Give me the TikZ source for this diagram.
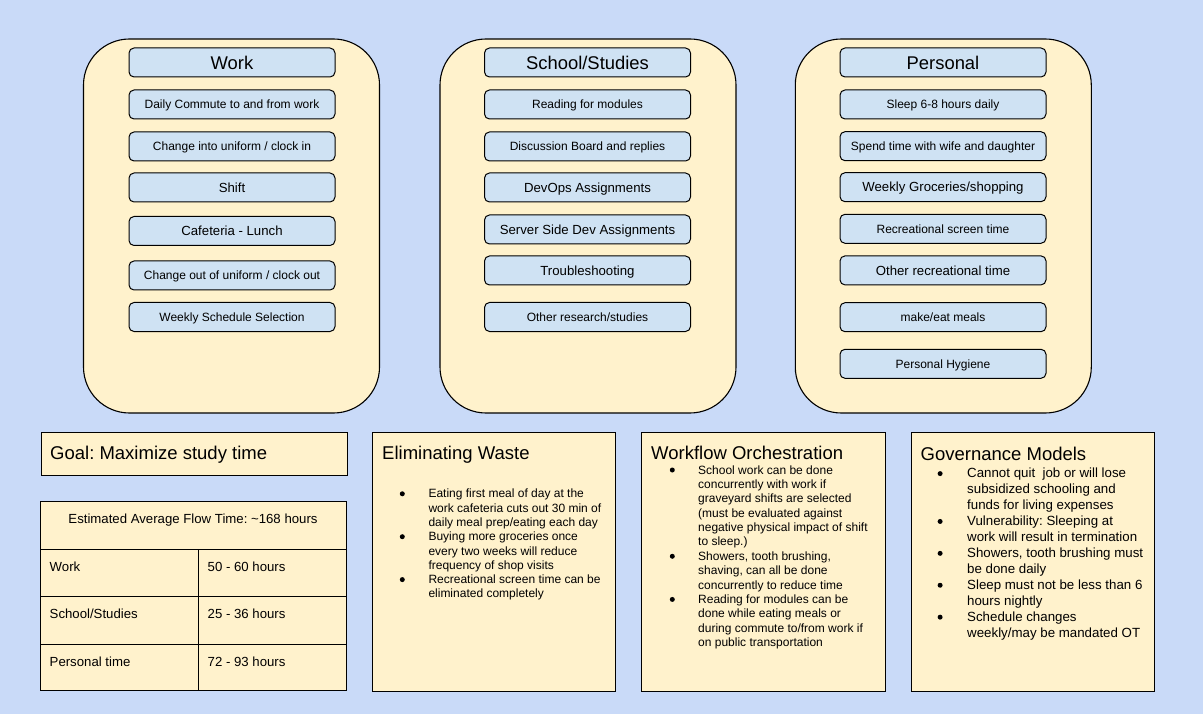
\documentclass[tikz,border=0pt]{standalone}
\usepackage{fontspec}
\setmainfont{Liberation Sans}
\frenchspacing
\definecolor{bgblue}{HTML}{C9DAF8}
\definecolor{ylw}{HTML}{FFF2CC}
\definecolor{lblue}{HTML}{CFE2F3}
\newcommand\bul{\tikz[baseline=0pt]\fill[black] (2.7pt,4pt) circle (2.5pt);}
\tikzset{
  cont/.style={draw, fill=ylw, line width=1.1pt, rounded corners=46pt, minimum width=296pt, minimum height=374pt, inner sep=0pt},
  itm/.style={draw, fill=lblue, line width=1pt, rounded corners=5pt, minimum width=206pt, minimum height=29pt, inner sep=0pt, text depth=0pt},
  sm/.style={itm, font=\fontsize{12}{14}\selectfont, text height=8.6pt},
  md/.style={itm, font=\fontsize{13.2}{15}\selectfont, text height=9.45pt},
  ttl/.style={itm, font=\fontsize{18.4}{22}\selectfont, text height=13.2pt},
  panel/.style={draw, fill=ylw, line width=1pt, inner sep=0pt},
  ptitle/.style={inner sep=0pt, anchor=base west, font=\fontsize{18.5}{22}\selectfont},
  body/.style={inner sep=0pt, anchor=base west, align=left},
  tx/.style={inner sep=0pt, anchor=base west, font=\fontsize{13.2}{15}\selectfont},
}
\begin{document}
\begin{tikzpicture}[x=1pt,y=-1pt]
\useasboundingbox (0,0) rectangle (1203,714);
\fill[bgblue] (0,0) rectangle (1203,714);

% containers
\node[cont] (workC) at (231.5,226) {};
\node[cont] (schoolC) at (588,226) {};
\node[cont] (persC) at (943.3,226) {};

% Work column
\node[ttl] (w0) at (232,62.5) {Work};
\node[sm] (w1) at (232,104.5) {Daily Commute to and from work};
\node[sm] (w2) at (232,146.5) {Change into uniform / clock in};
\node[md] (w3) at (232,187.5) {Shift};
\node[md] (w4) at (232,231) {Cafeteria - Lunch};
\node[sm] (w5) at (232,275.5) {Change out of uniform / clock out};
\node[sm] (w6) at (232,317) {Weekly Schedule Selection};

% School column
\node[ttl] (s0) at (587.5,62.5) {School/Studies};
\node[sm] (s1) at (587.5,104.5) {Reading for modules};
\node[sm] (s2) at (587.5,146.5) {Discussion Board and replies};
\node[md] (s3) at (587.5,187.5) {DevOps Assignments};
\node[md] (s4) at (587.5,229.5) {Server Side Dev Assignments};
\node[md] (s5) at (587.5,270.5) {Troubleshooting};
\node[sm] (s6) at (587.5,317) {Other research/studies};

% Personal column
\node[ttl] (p0) at (943,62.5) {Personal};
\node[sm] (p1) at (943,104.5) {Sleep 6-8 hours daily};
\node[sm] (p2) at (943,146.2) {Spend time with wife and daughter};
\node[md] (p3) at (943,187.2) {Weekly Groceries/shopping};
\node[sm] (p4) at (943,228.8) {Recreational screen time};
\node[md] (p5) at (943,270.4) {Other recreational time};
\node[sm] (p6) at (943,317.2) {make/eat meals};
\node[sm] (p7) at (943,363.8) {Personal Hygiene};

% Goal
\node[panel, minimum width=305.5pt, minimum height=42.7pt] (goal) at (194.25,453.7) {};
\node[ptitle] (goalT) at (50,459) {Goal: Maximize study time};

% Table
\node[panel, minimum width=306pt, minimum height=47.5pt] (th) at (193,525.25) {};
\node[panel, minimum width=158pt, minimum height=47.7pt] (c11) at (119,572.85) {};
\node[panel, minimum width=148pt, minimum height=47.7pt] (c12) at (272,572.85) {};
\node[panel, minimum width=158pt, minimum height=47.6pt] (c21) at (119,620.5) {};
\node[panel, minimum width=148pt, minimum height=47.6pt] (c22) at (272,620.5) {};
\node[panel, minimum width=158pt, minimum height=46.2pt] (c31) at (119,667.4) {};
\node[panel, minimum width=148pt, minimum height=46.2pt] (c32) at (272,667.4) {};
\node[tx, anchor=base] (thT) at (193,523.6) {Estimated Average Flow Time: \textasciitilde168 hours};
\node[tx] (t11) at (49.5,571.3) {Work};
\node[tx] (t12) at (207.5,571.3) {50 - 60 hours};
\node[tx] (t21) at (49.5,618.7) {School/Studies};
\node[tx] (t22) at (207.5,618.7) {25 - 36 hours};
\node[tx] (t31) at (49.5,666.3) {Personal time};
\node[tx] (t32) at (207.5,666.3) {72 - 93 hours};

% Eliminating Waste
\node[panel, minimum width=243pt, minimum height=258.5pt] (ew) at (494,561.75) {};
\node[ptitle] (ewT) at (382,459.5) {Eliminating Waste};
\node[body, font=\fontsize{12}{14.3}\selectfont] (ewB) at (399.6,497.8) {\begin{tabular}[t]{@{}p{28.7pt}@{}l@{}}
\bul & Eating first meal of day at the\\
 & work cafeteria cuts out 30 min of\\
 & daily meal prep/eating each day\\
\bul & Buying more groceries once\\
 & every two weeks will reduce\\
 & frequency of shop visits\\
\bul & Recreational screen time can be\\
 & eliminated completely
\end{tabular}};

% Workflow Orchestration
\node[panel, minimum width=244pt, minimum height=258.5pt] (wo) at (763.5,561.75) {};
\node[ptitle] (woT) at (651,459) {Workflow Orchestration};
\node[body, font=\fontsize{12}{14.38}\selectfont] (woB) at (669.6,474) {\begin{tabular}[t]{@{}p{28.4pt}@{}l@{}}
\bul & School work can be done\\
 & concurrently with work if\\
 & graveyard shifts are selected\\
 & (must be evaluated against\\
 & negative physical impact of shift\\
 & to sleep.)\\
\bul & Showers, tooth brushing,\\
 & shaving, can all be done\\
 & concurrently to reduce time\\
\bul & Reading for modules can be\\
 & done while eating meals or\\
 & during commute to/from work if\\
 & on public transportation
\end{tabular}};

% Governance Models
\node[panel, minimum width=243pt, minimum height=258.5pt] (gm) at (1033,561.75) {};
\node[ptitle] (gmT) at (920.5,460) {Governance Models};
\node[body, font=\fontsize{13.3}{15.95}\selectfont] (gmB) at (937.4,477.6) {\begin{tabular}[t]{@{}p{29.6pt}@{}l@{}}
\bul & Cannot quit\ \ job or will lose\\
 & subsidized schooling and\\
 & funds for living expenses\\
\bul & Vulnerability: Sleeping at\\
 & work will result in termination\\
\bul & Showers, tooth brushing must\\
 & be done daily\\
\bul & Sleep must not be less than 6\\
 & hours nightly\\
\bul & Schedule changes\\
 & weekly/may be mandated OT
\end{tabular}};
\end{tikzpicture}
\end{document}
